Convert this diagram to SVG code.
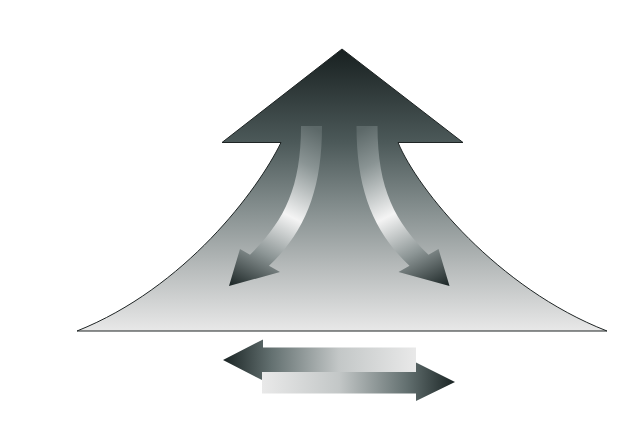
<svg xmlns="http://www.w3.org/2000/svg" width="627" height="421" viewBox="0 0 627 421">
  <defs>
    <linearGradient id="gMain" gradientUnits="userSpaceOnUse" x1="0" y1="49" x2="0" y2="331">
      <stop offset="0" stop-color="#182020"/>
      <stop offset="0.33" stop-color="#4c5959"/>
      <stop offset="0.55" stop-color="#818b8b"/>
      <stop offset="0.78" stop-color="#b8bcbc"/>
      <stop offset="1" stop-color="#e8e8e8"/>
    </linearGradient>
    <linearGradient id="gCurve" gradientUnits="userSpaceOnUse" x1="311" y1="126" x2="229" y2="286">
      <stop offset="0" stop-color="#5c6868"/>
      <stop offset="0.2" stop-color="#8a9494"/>
      <stop offset="0.5" stop-color="#f4f4f4"/>
      <stop offset="0.75" stop-color="#8c9595"/>
      <stop offset="1" stop-color="#1a2424"/>
    </linearGradient>
    <linearGradient id="gLeft" gradientUnits="userSpaceOnUse" x1="223" y1="0" x2="416" y2="0">
      <stop offset="0" stop-color="#1a2424"/>
      <stop offset="0.25" stop-color="#637070"/>
      <stop offset="0.6" stop-color="#c3c7c7"/>
      <stop offset="1" stop-color="#e9e9e9"/>
    </linearGradient>
    <linearGradient id="gRight" gradientUnits="userSpaceOnUse" x1="262" y1="0" x2="455" y2="0">
      <stop offset="0" stop-color="#e9e9e9"/>
      <stop offset="0.4" stop-color="#c3c7c7"/>
      <stop offset="0.75" stop-color="#637070"/>
      <stop offset="1" stop-color="#1a2424"/>
    </linearGradient>
  </defs>
  <style>
    .main { fill: url(#gMain); stroke: #1e2424; stroke-width: 1; stroke-linejoin: miter; }
    .curve { fill: url(#gCurve); stroke: none; }
  </style>
  <rect width="627" height="421" fill="#ffffff"/>
  <g id="main-arrow">
    <path class="main" d="M342,49 L463,142.5 L398,142.5 C418,190 497,288 607,331 L77,331 C185,288 258,190 281,142.5 L222,142.5 Z"/>
  </g>
  <g id="curved-arrow-left">
    <path class="curve" d="M301,126 L322,126 C322,190 305,232 269,265.7 L280,272 L229,286 L240,249 L250,254.8 C283,222 301,190 301,126 Z"/>
  </g>
  <g id="curved-arrow-right">
    <path class="curve" transform="translate(678.5,0) scale(-1,1)" d="M301,126 L322,126 C322,190 305,232 269,265.7 L280,272 L229,286 L240,249 L250,254.8 C283,222 301,190 301,126 Z"/>
  </g>
  <g id="arrow-left">
    <path fill="url(#gLeft)" d="M223,360 L263,339.5 L263,347.5 L416,347.5 L416,372 L263,372 L263,380.5 Z"/>
  </g>
  <g id="arrow-right">
    <path fill="url(#gRight)" d="M455,382 L416,401 L416,393.5 L262,393.5 L262,372 L416,372 L416,362.5 Z"/>
  </g>
</svg>
